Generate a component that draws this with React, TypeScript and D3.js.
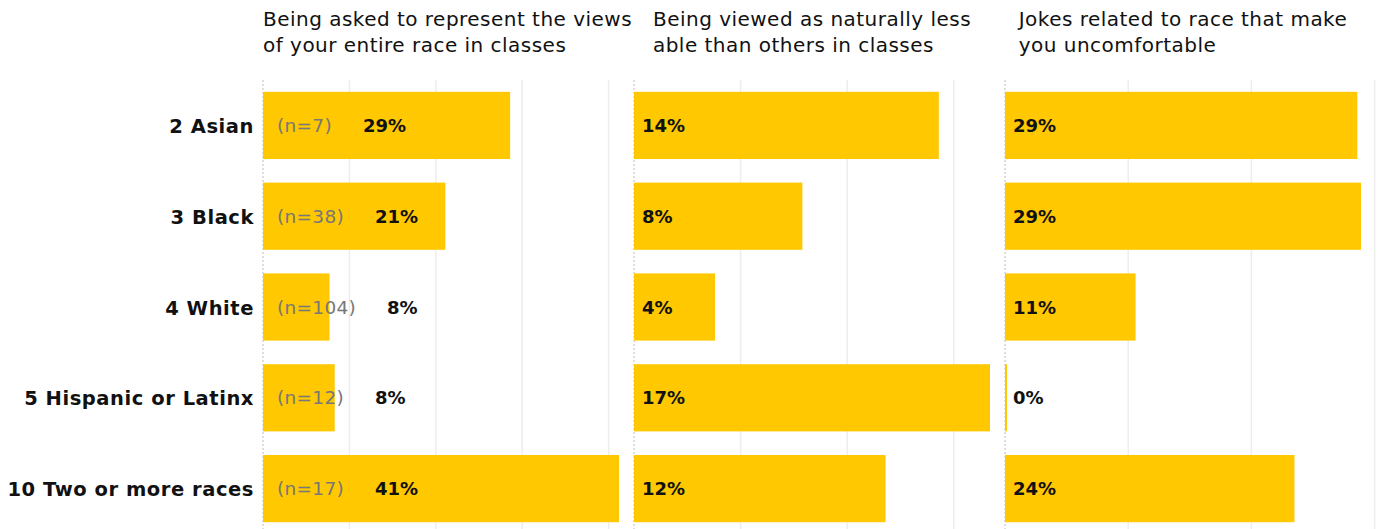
import React, { useEffect, useRef } from "react";
import * as d3 from "d3";

const categories = ["2 Asian", "3 Black", "4 White", "5 Hispanic or Latinx", "10 Two or more races"];
const sampleSizes = [7, 38, 104, 12, 17];
const panelTitles = [
  ["Being asked to represent the views", "of your entire race in classes"],
  ["Being viewed as naturally less", "able than others in classes"],
  ["Jokes related to race that make", "you uncomfortable"],
];
const representViews = [28.6, 21.1, 7.7, 8.3, 41.2];
const viewedLessAble = [14.3, 7.9, 3.8, 16.7, 11.8];
const racialJokes = [28.6, 28.9, 10.6, 0, 23.5];
const panelValues = [representViews, viewedLessAble, racialJokes];
const panelTicks = [[10, 20, 30, 40], [5, 10, 15], [10, 20, 30]];

const W = 1378;
const H = 529;
const FONT = "'DejaVu Sans', Verdana, sans-serif";
const BAR = "#FFC800";

export default function App() {
  const ref = useRef<SVGSVGElement | null>(null);

  useEffect(() => {
    const svg = d3.select(ref.current);
    svg.selectAll("*").remove();

    const plotTop = 80;
    const plotBottom = 534;
    const firstX = 263;
    const panelStep = 371;
    const panelW = 356;

    const y = d3
      .scaleBand<string>()
      .domain(categories)
      .range([plotTop, plotBottom])
      .paddingInner(0.26)
      .paddingOuter(0.13);

    // category labels
    svg
      .append("g")
      .selectAll("text")
      .data(categories)
      .join("text")
      .attr("x", 254)
      .attr("y", (d) => (y(d) as number) + y.bandwidth() / 2 + 7.5)
      .attr("text-anchor", "end")
      .attr("font-family", FONT)
      .attr("font-weight", "bold")
      .attr("font-size", 19.5)
      .attr("letter-spacing", 0.55)
      .attr("fill", "#111")
      .text((d) => d);

    panelValues.forEach((vals, pi) => {
      const x0 = firstX + pi * panelStep;
      const x = d3.scaleLinear().domain([0, d3.max(vals) as number]).range([0, panelW]);
      const g = svg.append("g").attr("transform", `translate(${x0},0)`);

      // gridlines
      g.selectAll("line.grid")
        .data(panelTicks[pi].filter((t) => x(t) <= panelW + 14))
        .join("line")
        .attr("class", "grid")
        .attr("x1", (t) => x(t))
        .attr("x2", (t) => x(t))
        .attr("y1", plotTop)
        .attr("y2", H)
        .attr("stroke", "#ededed")
        .attr("stroke-width", 1.5);

      // zero line
      g.append("line")
        .attr("x1", x(0))
        .attr("x2", x(0))
        .attr("y1", plotTop)
        .attr("y2", H)
        .attr("stroke", "#bdbdbd")
        .attr("stroke-width", 1)
        .attr("stroke-dasharray", "2,2");

      // bars
      g.selectAll("rect")
        .data(vals)
        .join("rect")
        .attr("x", x(0))
        .attr("y", (_, i) => y(categories[i]) as number)
        .attr("width", (v) => Math.max(2, x(v) - x(0)))
        .attr("height", y.bandwidth())
        .attr("fill", BAR);

      // labels
      const labels = g
        .selectAll("text.val")
        .data(vals)
        .join("text")
        .attr("class", "val")
        .attr("x", pi === 0 ? 14 : 8)
        .attr("y", (_, i) => (y(categories[i]) as number) + y.bandwidth() / 2 + 6.5)
        .attr("font-family", FONT)
        .attr("font-size", 18);
      if (pi === 0) {
        labels
          .append("tspan")
          .attr("fill", "#777")
          .attr("font-size", 18.5)
          .attr("letter-spacing", 0.3)
          .text((_, i) => `(n=${sampleSizes[i]})`);
        labels
          .append("tspan")
          .attr("dx", 31)
          .attr("font-weight", "bold")
          .attr("fill", "#111")
          .attr("letter-spacing", 0)
          .text((v) => `${Math.round(v)}%`);
      } else {
        labels
          .attr("font-weight", "bold")
          .attr("fill", "#111")
          .text((v) => `${Math.round(v)}%`);
      }

      // title, block centered above the panel, lines left-aligned
      const tg = g.append("g");
      const tt = tg
        .selectAll("text")
        .data(panelTitles[pi])
        .join("text")
        .attr("x", 0)
        .attr("y", (_, i) => 26 + i * 26)
        .attr("font-family", FONT)
        .attr("font-size", 20)
        .attr("letter-spacing", 0.48)
        .attr("fill", "#111")
        .text((d) => d);
      let maxW = 0;
      tt.each(function () {
        maxW = Math.max(maxW, (this as SVGTextElement).getComputedTextLength());
      });
      const tx = Math.max(0, panelW / 2 - maxW / 2);
      tg.attr("transform", `translate(${tx},0)`);
    });
  }, []);

  return (
    <svg
      ref={ref}
      width={W}
      height={H}
      style={{ position: "absolute", left: 0, top: 0, background: "#fff" }}
    />
  );
}
